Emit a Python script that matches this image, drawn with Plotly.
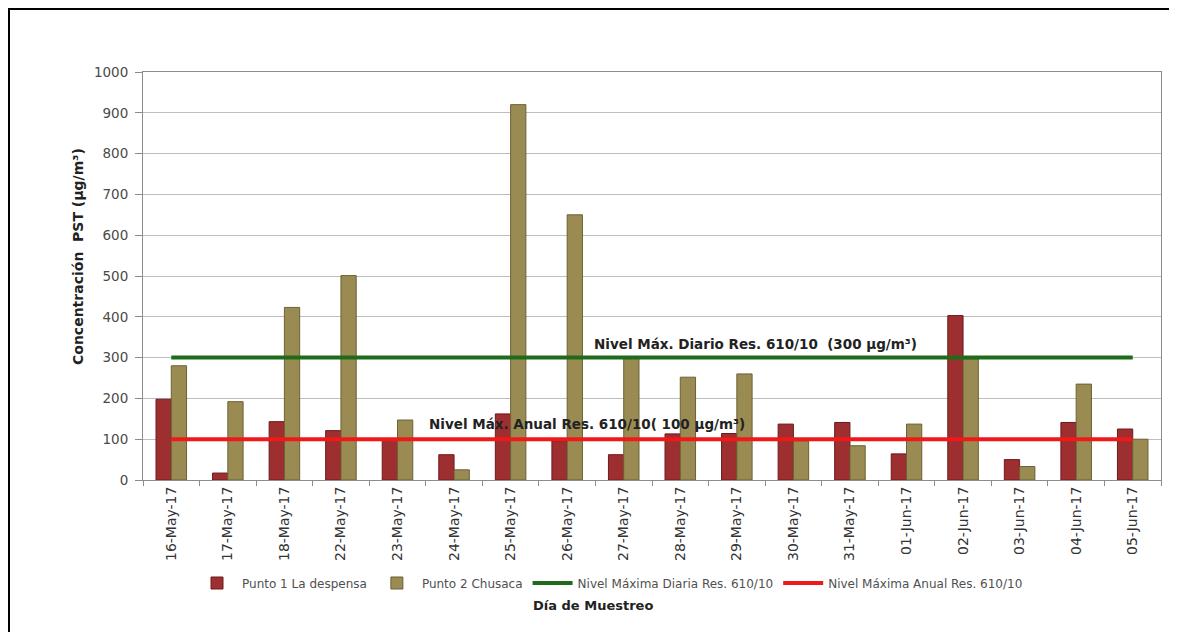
import plotly.graph_objects as go

dates = ["16-May-17", "17-May-17", "18-May-17", "22-May-17", "23-May-17", "24-May-17",
         "25-May-17", "26-May-17", "27-May-17", "28-May-17", "29-May-17", "30-May-17",
         "31-May-17", "01-Jun-17", "02-Jun-17", "03-Jun-17", "04-Jun-17", "05-Jun-17"]
punto1 = [198, 17, 143, 121, 100, 62, 162, 96, 62, 113, 114, 137, 141, 64, 403, 50, 141, 125]
punto2 = [280, 192, 423, 501, 147, 25, 920, 650, 300, 252, 260, 96, 84, 137, 297, 33, 235, 100]
limite_diario = [300] * len(dates)
limite_anual = [100] * len(dates)

OFF = 8  # page body margin
W, H = 1177 - OFF, 632 - OFF
# plot area in screen pixels
L, R, T, B = 143, 1161, 72, 480
pw, ph = R - L, B - T

def px(x):
    return (x - L) / pw

def py(y):
    return (B - y) / ph

font_family = "DejaVu Sans, Verdana, sans-serif"

fig = go.Figure()
fig.add_trace(go.Bar(x=dates, y=punto1, name="Punto 1 La despensa",
                     marker=dict(color="#9E2F31", line=dict(color="#6E1A1C", width=1))))
fig.add_trace(go.Bar(x=dates, y=punto2, name="Punto 2 Chusaca",
                     marker=dict(color="#9A8B52", line=dict(color="#6B6135", width=1))))
fig.add_trace(go.Scatter(x=dates, y=limite_diario, mode="lines",
                         name="Nivel Máxima Diaria Res. 610/10",
                         line=dict(color="#1F6B1A", width=4)))
fig.add_trace(go.Scatter(x=dates, y=limite_anual, mode="lines",
                         name="Nivel Máxima Anual Res. 610/10",
                         line=dict(color="#F01818", width=4)))

fig.update_layout(
    width=W, height=H,
    margin=dict(l=L - OFF, r=(W + OFF) - R, t=T - OFF, b=(H + OFF) - B, pad=0),
    paper_bgcolor="white", plot_bgcolor="white",
    barmode="group", bargap=0.46, bargroupgap=0.0,
    font=dict(family=font_family, color="#333333"),
    showlegend=True,
    legend=dict(orientation="h", x=px(192), y=py(583), xanchor="left", yanchor="middle",
                font=dict(size=12, color="#505050"), itemwidth=40,
                bgcolor="rgba(0,0,0,0)", traceorder="normal"),
    xaxis=dict(type="category", tickangle=-90, tickfont=dict(size=14, color="#333333"),
               showline=True, linecolor="#8C8C8C", linewidth=1, mirror=True,
               ticks="outside", tickson="boundaries", ticklen=5, tickcolor="#8C8C8C",
               showgrid=False),
    yaxis=dict(range=[0, 1000], dtick=100, tickfont=dict(size=13.5, color="#4A4A4A"),
               showline=True, linecolor="#8C8C8C", linewidth=1, mirror=True,
               ticks="outside", ticklen=7, tickcolor="#8C8C8C", ticklabelstandoff=4,
               showgrid=True, gridcolor="#BDBDBD", gridwidth=1, zeroline=False),
)

common = dict(xref="paper", yref="paper", showarrow=False, xanchor="center", yanchor="middle")
fig.add_annotation(text="<b>Nivel Máx. Diario Res. 610/10  (300 µg/m³)</b>",
                   x=px(755), y=py(344), font=dict(size=13.5, color="#222222"), **common)
fig.add_annotation(text="<b>Nivel Máx. Anual Res. 610/10( 100 µg/m³)</b>",
                   x=px(587), y=py(424), font=dict(size=13.5, color="#222222"), **common)
fig.add_annotation(text="<b>Concentración  PST (µg/m³)</b>",
                   x=px(78), y=py(257), textangle=-90,
                   font=dict(size=14, color="#222222"), **common)
fig.add_annotation(text="<b>Día de Muestreo</b>",
                   x=px(593), y=py(605), font=dict(size=13, color="#222222"), **common)

# outer frame (left and top edges visible)
fig.add_shape(type="line", xref="paper", yref="paper",
              x0=px(9), x1=px(9), y0=py(8), y1=py(640), line=dict(color="black", width=2))
fig.add_shape(type="line", xref="paper", yref="paper",
              x0=px(8), x1=px(1190), y0=py(9), y1=py(9), line=dict(color="black", width=2))

fig.write_html("out.html")
